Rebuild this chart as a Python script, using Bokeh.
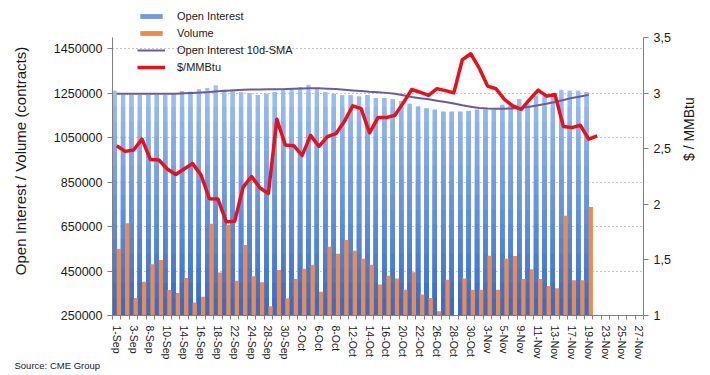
import math
import numpy as np
from bokeh.plotting import figure
from bokeh.models import (ColumnDataSource, LinearAxis, Range1d, FixedTicker,
                          Legend, LegendItem, Title, BasicTickFormatter)
from bokeh.transform import dodge
from bokeh.embed import file_html
from bokeh.resources import INLINE

# ---------------- data ----------------
dates = ["1-Sep", "2-Sep", "3-Sep", "4-Sep", "8-Sep", "9-Sep", "10-Sep", "11-Sep",
         "14-Sep", "15-Sep", "16-Sep", "17-Sep", "18-Sep", "21-Sep", "22-Sep", "23-Sep",
         "24-Sep", "25-Sep", "28-Sep", "29-Sep", "30-Sep",
         "1-Oct", "2-Oct", "5-Oct", "6-Oct", "7-Oct", "8-Oct", "9-Oct", "12-Oct", "13-Oct",
         "14-Oct", "15-Oct", "16-Oct", "19-Oct", "20-Oct", "21-Oct", "22-Oct", "23-Oct",
         "26-Oct", "27-Oct", "28-Oct", "29-Oct", "30-Oct",
         "2-Nov", "3-Nov", "4-Nov", "5-Nov", "6-Nov", "9-Nov", "10-Nov", "11-Nov", "12-Nov",
         "13-Nov", "16-Nov", "17-Nov", "18-Nov", "19-Nov", "20-Nov", "23-Nov", "24-Nov",
         "25-Nov", "26-Nov", "27-Nov"]

open_interest = [1262000, 1241000, 1241000, 1242000, 1241000, 1241000, 1241000, 1246000,
                 1260000, 1257000, 1268000, 1273000, 1285000, 1266000, 1265000, 1254000,
                 1250000, 1242000, 1247000, 1254000, 1269000, 1269000, 1277000, 1287000,
                 1272000, 1254000, 1247000, 1240000, 1240000, 1235000, 1242000, 1228000,
                 1228000, 1222000, 1214000, 1202000, 1190000, 1181000, 1175000, 1166000,
                 1166000, 1166000, 1170000, 1175000, 1175000, 1175000, 1198000, 1195000,
                 1223000, 1200000, 1238000, 1236000, 1243000, 1265000, 1262000, 1262000,
                 1255000]

volume = [550000, 665000, 329000, 402000, 481000, 500000, 365000, 351000,
          419000, 308000, 334000, 662000, 443000, 658000, 406000, 567000,
          427000, 400000, 292000, 455000, 328000, 414000, 460000, 478000,
          357000, 559000, 528000, 590000, 541000, 505000, 478000, 389000,
          429000, 416000, 366000, 444000, 344000, 329000, 269000, 411000,
          230000, 416000, 366000, 366000, 519000, 366000, 505000, 518000,
          414000, 458000, 414000, 383000, 373000, 698000, 409000, 409000,
          738000]

oi_sma10 = [1247000, 1247000, 1247000, 1247000, 1247000, 1247000, 1247000, 1247000,
            1249000, 1251000, 1253000, 1255000, 1258000, 1261000, 1263000, 1265000,
            1266000, 1266000, 1267000, 1267000, 1268000, 1270000, 1271000, 1272000,
            1272000, 1270000, 1268000, 1265000, 1262000, 1259000, 1256000, 1254000,
            1251000, 1247000, 1240000, 1232000, 1227000, 1222000, 1216000, 1210000,
            1203000, 1195000, 1189000, 1183000, 1181000, 1180000, 1180000, 1181000,
            1184000, 1189000, 1195000, 1202000, 1210000, 1219000, 1228000, 1235000,
            1242000]

price = [2.527, 2.476, 2.488, 2.586, 2.402, 2.399, 2.318, 2.268, 2.318, 2.366,
         2.265, 2.050, 2.048, 1.842, 1.848, 2.155, 2.250, 2.146, 2.098, 2.765,
         2.533, 2.527, 2.440, 2.620, 2.520, 2.608, 2.635, 2.744, 2.885, 2.860,
         2.643, 2.780, 2.780, 2.800, 2.912, 3.032, 3.008, 2.980, 3.040, 3.022,
         3.002, 3.300, 3.354, 3.226, 3.063, 3.039, 2.943, 2.884, 2.854, 2.943,
         3.027, 2.973, 2.988, 2.699, 2.690, 2.711, 2.586, 2.616]

left_ticks = [250000, 450000, 650000, 850000, 1050000, 1250000, 1450000]
left_bounds = (250000, 1500000)
right_ticks = [1, 1.5, 2, 2.5, 3, 3.5]
right_tick_labels = ["1", "1,5", "2", "2,5", "3", "3,5"]
right_bounds = (1, 3.5)

# ---------------- layout (pixels) ----------------
W, H = 708, 373
FRAME_L, FRAME_R, FRAME_T, FRAME_B = 112, 643, 6, 315
AXIS_TOP = 37          # where the top of the value axes sits
FONT = "Liberation Sans"

# extend the y ranges above the axes so the legend can sit inside the frame
ext = (FRAME_B - FRAME_T) / (FRAME_B - AXIS_TOP)
y_top_left = left_bounds[0] + (left_bounds[1] - left_bounds[0]) * ext
y_top_right = right_bounds[0] + (right_bounds[1] - right_bounds[0]) * ext

n = len(dates)
idx = list(range(n))

p = figure(width=W, height=H, output_backend="svg", toolbar_location=None,
           x_range=Range1d(-0.5, n - 0.5),
           y_range=Range1d(left_bounds[0], y_top_left),
           min_border_left=FRAME_L, min_border_right=W - FRAME_R,
           min_border_top=FRAME_T, min_border_bottom=H - FRAME_B)
p.outline_line_color = None
p.background_fill_color = "white"
p.border_fill_color = "white"
p.extra_y_ranges = {"price": Range1d(right_bounds[0], y_top_right)}

# gradient blue columns (light top -> darker bottom), layered bars
n_oi = len(open_interest)
levels = np.linspace(1320000, 330000, 16)
c_top = np.array([0xa2, 0xc1, 0xf2])
c_bot = np.array([0x37, 0x6c, 0xd0])
oi_renderers = []
for k, lvl in enumerate(levels):
    t = k / (len(levels) - 1)
    rgb = (c_top * (1 - t) + c_bot * t).astype(int)
    col = "#%02x%02x%02x" % tuple(rgb)
    src = ColumnDataSource(dict(x=idx[:n_oi], top=np.minimum(open_interest, lvl)))
    r = p.vbar(x=dodge("x", -0.25, range=p.x_range), top="top", bottom=0, width=0.5,
               source=src, fill_color=col, line_color=None)
    oi_renderers.append(r)

vol_src = ColumnDataSource(dict(x=idx[:len(volume)], top=volume))
r_vol = p.vbar(x=dodge("x", 0.25, range=p.x_range), top="top", bottom=0, width=0.5,
               source=vol_src, fill_color="#ef8b45", line_color=None)

r_sma = p.line(idx[:len(oi_sma10)], oi_sma10, line_color="#6b5a9c", line_width=2)
r_pr = p.line(idx[:len(price)], price, y_range_name="price", line_color="#e8101a",
              line_width=3.5, line_join="round")

# ---------------- axes ----------------
axis_color = "#7f7f7f"
yl = p.yaxis[0]
yl.ticker = FixedTicker(ticks=left_ticks)
yl.formatter = BasicTickFormatter(use_scientific=False)
yl.axis_label = "Open Interest / Volume (contracts)"
yl.bounds = left_bounds

yr = LinearAxis(y_range_name="price", ticker=FixedTicker(ticks=right_ticks),
                axis_label="$ / MMBtu", bounds=right_bounds)
yr.major_label_overrides = {t: s for t, s in zip(right_ticks, right_tick_labels)}
yr.axis_label_orientation = math.pi / 2
p.add_layout(yr, "right")

xa = p.xaxis[0]
even = [i for i in idx if i % 2 == 0]
xa.ticker = FixedTicker(ticks=even, minor_ticks=[i - 0.5 for i in idx] + [n - 0.5])
xa.major_label_overrides = {i: dates[i] for i in even}
xa.major_label_orientation = "vertical"
xa.major_tick_out = 0
xa.major_tick_in = 0
xa.minor_tick_out = 4
xa.minor_tick_in = 0
xa.minor_tick_line_color = axis_color
xa.major_label_standoff = 6
xa.major_label_text_font_size = "10.5px"

for ax in (yl, yr):
    ax.major_tick_out = 5
    ax.major_tick_in = 0
    ax.minor_tick_line_color = None
    ax.major_label_text_font_size = "12.5px"
    ax.major_label_standoff = 5
    ax.axis_label_text_font_style = "normal"
    ax.axis_label_text_font = FONT
    ax.axis_label_text_color = "#1a1a1a"

yl.axis_label_text_font_size = "15px"
yl.axis_label_standoff = 22
yr.axis_label_text_font_size = "14px"
yr.axis_label_standoff = 15

for ax in (yl, yr, xa):
    ax.axis_line_color = axis_color
    ax.major_tick_line_color = axis_color
    ax.major_label_text_font = FONT
    ax.major_label_text_color = "#1a1a1a"

p.xgrid.grid_line_color = None
p.ygrid.ticker = FixedTicker(ticks=left_ticks[1:])
p.ygrid.grid_line_color = "#8c8c8c"
p.ygrid.grid_line_dash = "1 3"
p.ygrid.grid_line_width = 1

# ---------------- legend ----------------
legend = Legend(items=[LegendItem(label="Open Interest", renderers=[oi_renderers[7]]),
                       LegendItem(label="Volume", renderers=[r_vol]),
                       LegendItem(label="Open Interest 10d-SMA", renderers=[r_sma]),
                       LegendItem(label="$/MMBtu", renderers=[r_pr])],
                location=(25, 241), orientation="vertical",
                background_fill_alpha=0, border_line_alpha=0,
                glyph_width=28, glyph_height=6, label_height=14,
                label_text_font=FONT, label_text_font_size="11px",
                label_text_color="#1a1a1a", label_standoff=12,
                spacing=3, padding=0, margin=0)
p.add_layout(legend, "center")

src_title = Title(text="Source: CME Group", align="left", offset=14 - FRAME_L,
                  text_font=FONT, text_font_size="9.5px", text_font_style="normal",
                  text_color="#1a1a1a", standoff=-10)
p.add_layout(src_title, "below")

open("out.html", "w").write(file_html(p, INLINE))
